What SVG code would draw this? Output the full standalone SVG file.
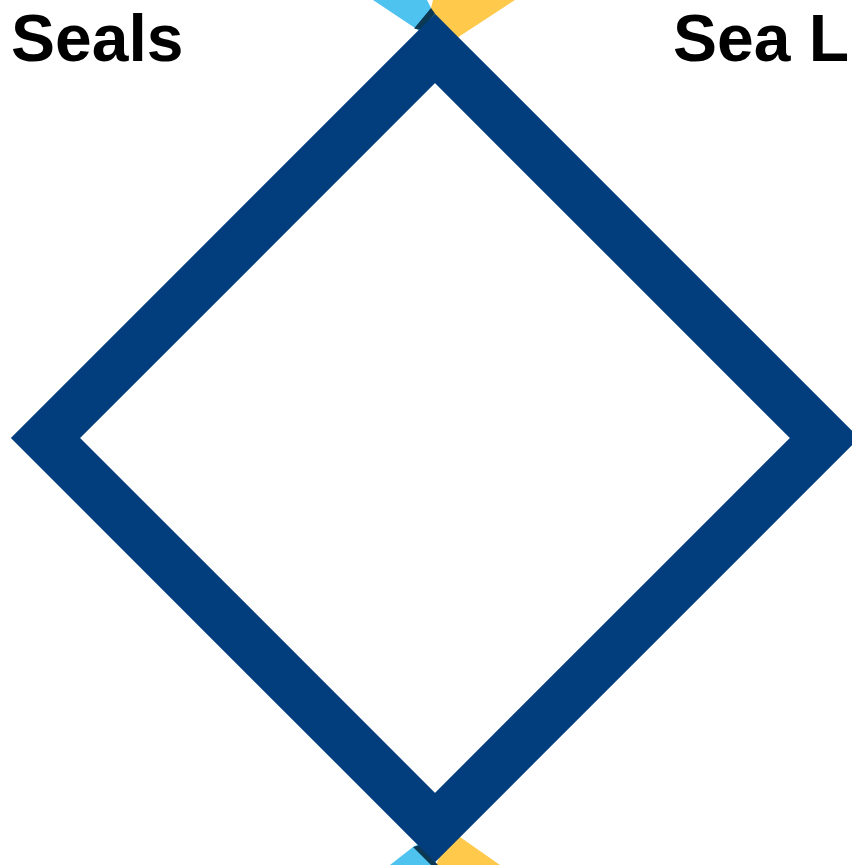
<svg xmlns="http://www.w3.org/2000/svg" width="852" height="865" viewBox="0 0 852 865">
<style>
.lbl{font-family:"Liberation Sans",Arial,sans-serif;font-weight:bold;font-size:66px;fill:#000}
.blue{fill:#4FC3F0}
.yellow{fill:#FFC94B}
.dark{fill:#0B3853}
.diamond{fill:none;stroke:#023E7D;stroke-width:49;stroke-linejoin:miter;stroke-miterlimit:10}
</style>
<rect width="852" height="865" fill="#fff"/>
<g id="connectors">
<polygon class="blue" points="373,0 427,0 431,8 432,25 421,32"/>
<polygon class="yellow" points="433,0 515,0 455,39.3 430,20 431,8"/>
<polygon class="dark" points="431,8 435,13.5 421,30 414,28.5"/>
<polygon class="blue" points="390,865 413,847 420,843 433,865"/>
<polygon class="yellow" points="460,837 500,865 436,865 440,855 452,838"/>
<polygon class="dark" points="413,847 420,845 438,865 431,865"/>
</g>
<g id="diamond">
<polygon class="diamond" points="435,48.5 824.5,438 435,827.5 45.5,438"/>
</g>
<g id="seals">
<text class="lbl" x="11" y="61">Seals</text>
</g>
<g id="sea-lions">
<text class="lbl" x="673" y="61">Sea Lions</text>
</g>
</svg>
